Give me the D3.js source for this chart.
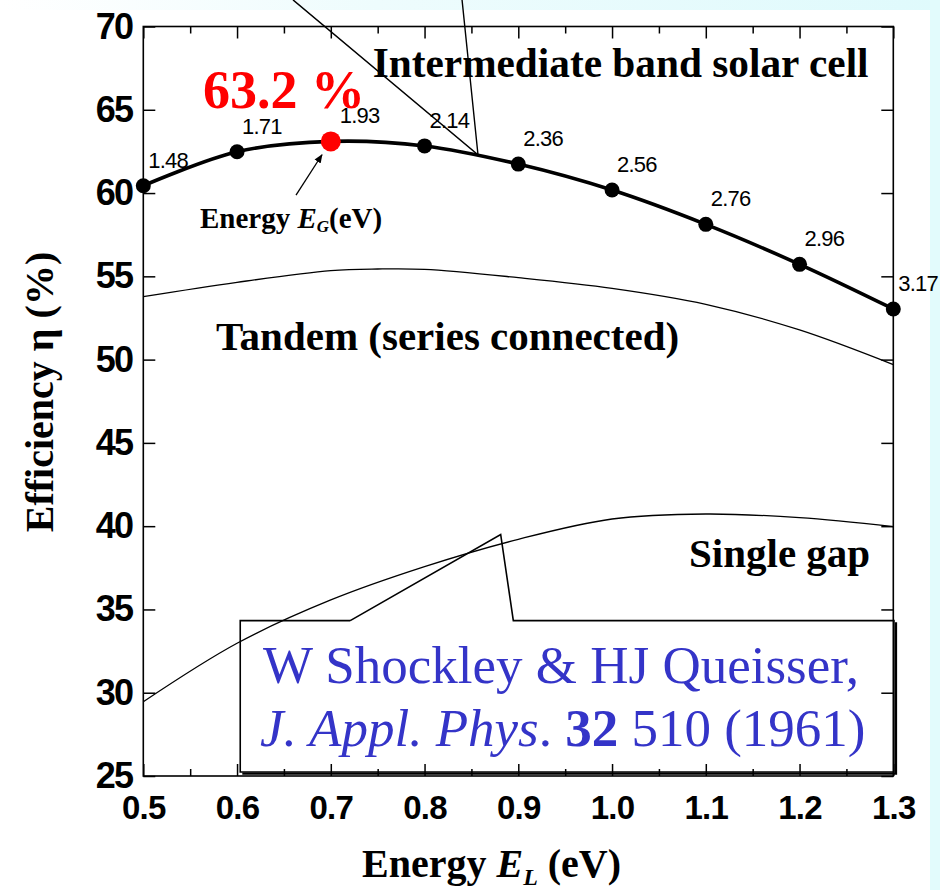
<!DOCTYPE html>
<html><head><meta charset="utf-8">
<script src="https://cdn.jsdelivr.net/npm/d3@7"></script>
<style>body{margin:0;background:#fff}</style>
</head><body><div id="chart"></div>
<script>
// ---- data ----
const energyL = [0.5, 0.6, 0.7, 0.8, 0.9, 1.0, 1.1, 1.2, 1.3];
const ibEfficiency = [60.44, 62.48, 63.1, 62.83, 61.74, 60.18, 58.12, 55.72, 53.04];
const ibGapLabels = ["1.48", "1.71", "1.93", "2.14", "2.36", "2.56", "2.76", "2.96", "3.17"];
const peakIndex = 2;
const tandemX = [0.5, 0.6, 0.7, 0.75, 0.8, 0.9, 1.0, 1.1, 1.2, 1.3];
const tandemY = [53.78, 54.64, 55.34, 55.44, 55.42, 54.92, 54.28, 53.32, 51.78, 49.7];
const singleX = [0.5, 0.6, 0.7, 0.8, 0.9, 1.0, 1.1, 1.2, 1.3];
const singleY = [29.46, 32.97, 35.57, 37.57, 39.21, 40.43, 40.73, 40.51, 39.97];
const xMajorTicks = [0.5, 0.6, 0.7, 0.8, 0.9, 1.0, 1.1, 1.2, 1.3];
const xMinorTicks = [0.55, 0.65, 0.75, 0.85, 0.95, 1.05, 1.15, 1.25];
const yTicks = [25, 30, 35, 40, 45, 50, 55, 60, 65, 70];

const W = 940, H = 890;
const svg = d3.select("#chart").append("svg").attr("width", W).attr("height", H)
  .style("display", "block");

// slide background
const defs = svg.append("defs");
const g1 = defs.append("linearGradient").attr("id", "topg").attr("x1", 0).attr("x2", 1).attr("y1", 0).attr("y2", 0);
g1.append("stop").attr("offset", "0").attr("stop-color", "#ffffff");
g1.append("stop").attr("offset", "0.4").attr("stop-color", "#eefcfd");
g1.append("stop").attr("offset", "1").attr("stop-color", "#dffafc");
svg.append("rect").attr("width", W).attr("height", H).attr("fill", "#fff");
svg.append("rect").attr("x", 0).attr("y", 0).attr("width", W).attr("height", 10).attr("fill", "url(#topg)");
svg.append("rect").attr("x", 930).attr("y", 0).attr("width", 10).attr("height", H).attr("fill", "#e2fbfc");

const x = d3.scaleLinear().domain([0.5, 1.3]).range([143.3, 893.3]);
const y = d3.scaleLinear().domain([25, 70]).range([776, 26.5]);

const serif = "'Liberation Serif','Times New Roman',serif";
const sans = "'Liberation Sans',Arial,sans-serif";

// axes (inward ticks)
function styleAxis(g) {
  g.select(".domain").remove();
  g.selectAll(".tick line").attr("stroke", "#000").attr("stroke-width", 1.5);
}
const bottomMajor = svg.append("g").attr("transform", `translate(0,${y(25)})`)
  .call(d3.axisBottom(x).tickValues(xMajorTicks).tickSize(-12).tickPadding(19.5).tickFormat(d3.format(".1f")))
  .call(styleAxis);
bottomMajor.selectAll("text").attr("font-family", sans).attr("font-weight", "bold")
  .attr("font-size", 33).attr("fill", "#000").attr("letter-spacing", -0.8);
svg.append("g").attr("transform", `translate(0,${y(25)})`)
  .call(d3.axisBottom(x).tickValues(xMinorTicks).tickSize(-7).tickFormat(""))
  .call(styleAxis);
svg.append("g").attr("transform", `translate(0,${y(70)})`)
  .call(d3.axisTop(x).tickValues(xMajorTicks).tickSize(-12).tickFormat(""))
  .call(styleAxis);
svg.append("g").attr("transform", `translate(0,${y(70)})`)
  .call(d3.axisTop(x).tickValues(xMinorTicks).tickSize(-7).tickFormat(""))
  .call(styleAxis);
const leftAx = svg.append("g").attr("transform", `translate(${x(0.5)},0)`)
  .call(d3.axisLeft(y).tickValues(yTicks).tickSize(-12).tickPadding(11).tickFormat(d3.format("d")))
  .call(styleAxis);
leftAx.selectAll("text").attr("font-family", sans).attr("font-weight", "bold")
  .attr("font-size", 36).attr("fill", "#000").attr("letter-spacing", -1.8);
svg.append("g").attr("transform", `translate(${x(1.3)},0)`)
  .call(d3.axisRight(y).tickValues(yTicks).tickSize(-12).tickFormat(""))
  .call(styleAxis);

// frame
svg.append("rect").attr("x", x(0.5)).attr("y", y(70))
  .attr("width", x(1.3) - x(0.5)).attr("height", y(25) - y(70))
  .attr("fill", "none").attr("stroke", "#000").attr("stroke-width", 1.6);

// thin curves
const thin = d3.line().x(d => x(d[0])).y(d => y(d[1])).curve(d3.curveCatmullRom.alpha(0.5));
svg.append("path").datum(tandemX.map((v, i) => [v, tandemY[i]]))
  .attr("d", thin).attr("fill", "none").attr("stroke", "#000").attr("stroke-width", 1.3);
svg.append("path").datum(singleX.map((v, i) => [v, singleY[i]]))
  .attr("d", thin).attr("fill", "none").attr("stroke", "#000").attr("stroke-width", 1.3);

// Intermediate band curve
const ibData = energyL.map((v, i) => ({ x: v, y: ibEfficiency[i], lab: ibGapLabels[i], i }));
svg.append("path").datum(ibData)
  .attr("d", d3.line().x(d => x(d.x)).y(d => y(d.y)).curve(d3.curveCatmullRom.alpha(0.5)))
  .attr("fill", "none").attr("stroke", "#000").attr("stroke-width", 3.6);

// callout lines for IB label (annotation, in data units)
const ibTip = [0.857, 62.3];
const lineGen = d3.line().x(d => x(d[0])).y(d => y(d[1]));
svg.append("path").datum([[0.6597, 71.6], ibTip, [0.840, 71.6]])
  .attr("d", lineGen).attr("fill", "none").attr("stroke", "#000").attr("stroke-width", 1.4);

svg.selectAll("circle.pt").data(ibData).join("circle").attr("class", "pt")
  .attr("cx", d => x(d.x)).attr("cy", d => y(d.y))
  .attr("r", d => d.i === peakIndex ? 10 : 7.5)
  .attr("fill", d => d.i === peakIndex ? "#ff0000" : "#000");
svg.selectAll("text.gap").data(ibData).join("text").attr("class", "gap")
  .attr("x", d => x(d.x) + (d.i === peakIndex ? 9 : 5)).attr("y", d => y(d.y) - 18)
  .attr("font-family", sans).attr("font-size", 22).attr("letter-spacing", -0.8)
  .text(d => d.lab);

// Text labels
svg.append("text").attr("x", 372.7).attr("y", 77.3).attr("font-family", serif)
  .attr("font-weight", "bold").attr("font-size", 41.3).text("Intermediate band solar cell");
svg.append("text").attr("x", 203).attr("y", 108).attr("font-family", serif)
  .attr("font-weight", "bold").attr("font-size", 54).attr("fill", "#ff0000").text("63.2 %");
const eg = svg.append("text").attr("x", 200).attr("y", 228).attr("font-family", serif)
  .attr("font-weight", "bold").attr("font-size", 29);
eg.append("tspan").text("Energy ");
eg.append("tspan").attr("font-style", "italic").text("E");
eg.append("tspan").attr("font-style", "italic").attr("font-size", 17).attr("dy", 4).text("G");
eg.append("tspan").attr("dy", -4).text("(eV)");

// arrow to peak
defs.append("marker").attr("id", "arr").attr("viewBox", "0 0 10 10").attr("refX", 9).attr("refY", 5)
  .attr("markerWidth", 9).attr("markerHeight", 9).attr("orient", "auto").attr("markerUnits", "userSpaceOnUse")
  .append("path").attr("d", "M0,1 L10,5 L0,9 z").attr("fill", "#000");
svg.append("path").datum([[0.6629, 59.88], [0.6906, 62.3]]).attr("d", lineGen)
  .attr("stroke", "#000").attr("stroke-width", 1.3).attr("marker-end", "url(#arr)");

svg.append("text").attr("x", 216).attr("y", 350).attr("font-family", serif)
  .attr("font-weight", "bold").attr("font-size", 41).text("Tandem (series connected)");
svg.append("text").attr("x", 689).attr("y", 567).attr("font-family", serif)
  .attr("font-weight", "bold").attr("font-size", 41).text("Single gap");

// citation callout box (annotation, in data units)
const boxPts = [[0.7207, 34.33], [0.8812, 39.5], [0.8947, 34.33], [1.3007, 34.33], [1.3007, 25.24], [0.6034, 25.24], [0.6034, 34.33], [0.7207, 34.33]];
// shadow on right and bottom edges
svg.append("path").datum([[1.3007, 34.33], [1.3007, 25.24], [0.6034, 25.24]].map(p => [p[0] + 0.0022, p[1] - 0.1]))
  .attr("d", lineGen).attr("fill", "none").attr("stroke", "#000").attr("stroke-width", 2.2);
svg.append("path").datum(boxPts)
  .attr("d", lineGen).attr("fill", "none").attr("stroke", "#000").attr("stroke-width", 1.6)
  .attr("stroke-linejoin", "miter");

const blue = "#3434c8";
svg.append("text").attr("x", 263).attr("y", 682.7).attr("font-family", serif)
  .attr("font-size", 53).attr("fill", blue).text("W Shockley & HJ Queisser,");
const c2 = svg.append("text").attr("x", 260).attr("y", 745.7).attr("font-family", serif)
  .attr("font-size", 53).attr("fill", blue);
c2.append("tspan").attr("font-style", "italic").text("J. Appl. Phys");
c2.append("tspan").text(". ");
c2.append("tspan").attr("font-weight", "bold").text("32");
c2.append("tspan").text(" 510 (1961)");

// axis titles
const xt = svg.append("text").attr("x", 362).attr("y", 877).attr("font-family", serif)
  .attr("font-weight", "bold").attr("font-size", 40);
xt.append("tspan").text("Energy ");
xt.append("tspan").attr("font-style", "italic").text("E");
xt.append("tspan").attr("font-style", "italic").attr("font-size", 24).attr("dy", 8).text("L");
xt.append("tspan").attr("dy", -8).text(" (eV)");

svg.append("text").attr("transform", "translate(53,392) rotate(-90)").attr("text-anchor", "middle")
  .attr("font-family", serif).attr("font-weight", "bold").attr("font-size", 40)
  .text("Efficiency η (%)");
</script></body></html>
